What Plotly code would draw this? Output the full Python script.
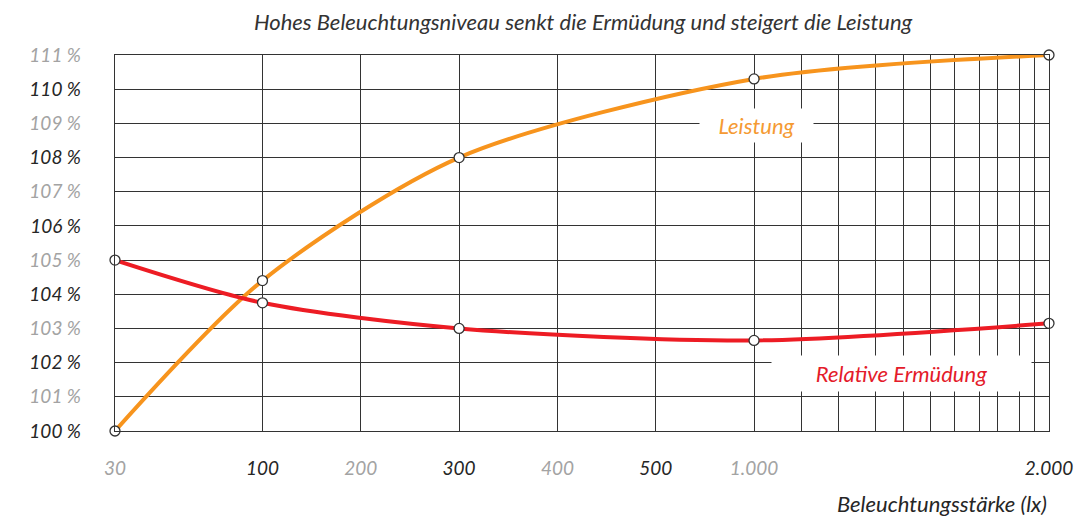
import numpy as np
import plotly.graph_objects as go

# ---- data ----
lux = [30, 100, 300, 1000, 2000]
leistung = [100.0, 104.4, 108.0, 110.3, 111.0]
ermuedung = [105.0, 103.75, 103.0, 102.65, 103.15]

x_tick_lux = [30, 100, 200, 300, 400, 500, 1000, 2000]
x_tick_labels = ["30", "100", "200", "300", "400", "500", "1.000", "2.000"]
y_ticks = list(range(100, 112))

# stylised (piecewise) lux scale used by the original chart
scale_pos = [0, 1.5, 2.5, 3.5, 4.5, 5.5, 6.5, 9.5]
minor_pos = [6.98, 7.36, 7.74, 8.02, 8.29, 8.54, 8.79, 8.98, 9.20, 9.35]


def to_axis(v):
    return np.interp(np.log10(v), np.log10(x_tick_lux), scale_pos)


DARK = "#262626"
GRAY = "#a3a3a3"
GRID = "#333333"
ORANGE = "#F7941D"
RED = "#ED1C24"
FONT = "Lato"

fig = go.Figure()
for vals, col, sm in [(leistung, ORANGE, 0.8), (ermuedung, RED, 0.8)]:
    fig.add_trace(go.Scatter(
        x=to_axis(lux), y=vals, mode="lines+markers",
        line=dict(color=col, width=4, shape="spline", smoothing=sm),
        marker=dict(size=10, color="white", line=dict(color="#333333", width=1.3)),
        cliponaxis=False, showlegend=False, hoverinfo="skip"))

x_text = [f"<span style='color:{GRAY if i % 2 == 0 else DARK}'><i>{t}</i></span>"
          for i, t in enumerate(x_tick_labels)]
y_text = [f"<span style='color:{DARK if v % 2 == 0 else GRAY}'><i>{v} %</i></span>"
          for v in y_ticks]

fig.update_layout(
    width=1083, height=510,
    margin=dict(l=107, r=42, t=47, b=87),
    paper_bgcolor="white", plot_bgcolor="white",
    font=dict(family=FONT, size=19, color=DARK),
    title=dict(text="<i>Hohes Beleuchtungsniveau senkt die Ermüdung und steigert die Leistung</i>",
               x=0.531, xanchor="center", y=0.9725, yanchor="middle",
               font=dict(family=FONT, size=22, color="#333333")),
    xaxis=dict(range=[0, 9.5], tickmode="array", tickvals=scale_pos, ticktext=x_text,
               showgrid=True, gridcolor=GRID, gridwidth=1.4, zeroline=False,
               showline=True, linecolor=GRID, linewidth=1.4, mirror=True,
               ticks="", ticklabelstandoff=20, tickfont=dict(size=19),
               minor=dict(tickmode="array", tickvals=minor_pos, showgrid=True,
                          gridcolor=GRID, gridwidth=1.4, ticks="")),
    yaxis=dict(range=[100, 111], tickmode="array", tickvals=y_ticks, ticktext=y_text,
               showgrid=True, gridcolor=GRID, gridwidth=1.4, zeroline=False,
               showline=True, linecolor=GRID, linewidth=1.4, mirror=True,
               ticks="", ticklabelstandoff=29, tickfont=dict(size=19)),
)

fig.add_annotation(x=6.525, y=108.94, xref="x", yref="y", text="<i>Leistung</i>",
                   showarrow=False, bgcolor="white", width=113, height=33, borderpad=0,
                   font=dict(family=FONT, size=22, color="#F59A33"))
fig.add_annotation(x=8.0, y=101.68, xref="x", yref="y", text="<i>Relative Ermüdung</i>",
                   showarrow=False, bgcolor="white", width=259, height=35, borderpad=0,
                   font=dict(family=FONT, size=22, color="#E41B2A"))
fig.add_annotation(x=1.0, y=0, xref="paper", yref="paper", xanchor="right", yanchor="middle",
                   yshift=-72, text="<i>Beleuchtungsstärke (lx)</i>", showarrow=False,
                   font=dict(family=FONT, size=22, color=DARK))

fig.write_html("out.html")
